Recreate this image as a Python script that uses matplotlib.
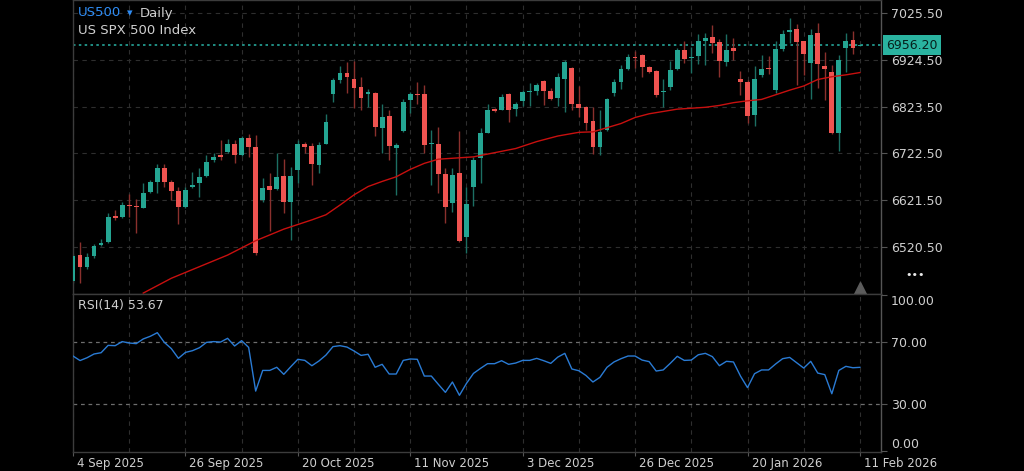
"""US500 daily candles with 50 MA and RSI(14) panel, dark theme."""

import matplotlib

matplotlib.use("Agg")
import matplotlib.pyplot as plt
import matplotlib.transforms as mtransforms
import numpy as np

# --- data (one entry per daily bar) ---
open_ = [6448, 6503, 6478, 6500, 6525, 6531, 6588, 6586, 6612, 6609,
         6605, 6640, 6660, 6692, 6661, 6641, 6607, 6649, 6658, 6674,
         6708, 6718, 6725, 6743, 6719, 6756, 6736, 6622, 6652, 6646,
         6674, 6618, 6687, 6743, 6738, 6697, 6743, 6850, 6881, 6897,
         6883, 6865, 6851, 6852, 6778, 6803, 6735, 6771, 6838, 6851,
         6851, 6743, 6742, 6677, 6615, 6681, 6541, 6649, 6712, 6766,
         6818, 6816, 6851, 6819, 6835, 6855, 6858, 6879, 6857, 6841,
         6884, 6906, 6830, 6823, 6792, 6737, 6773, 6852, 6877, 6905,
         6931, 6935, 6908, 6900, 6856, 6865, 6905, 6946, 6929, 6933,
         6966, 6974, 6964, 6919, 6949, 6884, 6877, 6806, 6892, 6906,
         6859, 6947, 6984, 6991, 6965, 6917, 6983, 6912, 6899, 6767,
         6949, 6967, 6955]
high = [6506, 6532, 6507, 6528, 6537, 6593, 6600, 6618, 6635, 6623,
        6659, 6665, 6700, 6700, 6665, 6651, 6651, 6683, 6690, 6719,
        6723, 6751, 6753, 6751, 6760, 6764, 6762, 6669, 6681, 6724,
        6710, 6694, 6751, 6748, 6746, 6748, 6807, 6885, 6911, 6920,
        6923, 6887, 6861, 6854, 6829, 6816, 6744, 6839, 6856, 6877,
        6870, 6773, 6780, 6690, 6690, 6771, 6651, 6715, 6777, 6830,
        6820, 6851, 6852, 6833, 6859, 6874, 6874, 6881, 6863, 6895,
        6924, 6910, 6868, 6825, 6823, 6816, 6841, 6882, 6913, 6938,
        6944, 6938, 6912, 6902, 6884, 6923, 6949, 6966, 6953, 6980,
        6982, 7000, 6969, 6980, 6971, 6901, 6881, 6912, 6935, 6933,
        6966, 6989, 7014, 7002, 6966, 6992, 7003, 6942, 6913, 6935,
        6983, 6987, 6958]
low = [6442, 6442, 6472, 6496, 6522, 6530, 6579, 6583, 6586, 6550,
       6604, 6636, 6636, 6651, 6622, 6570, 6604, 6647, 6629, 6672,
       6705, 6708, 6723, 6701, 6717, 6715, 6503, 6618, 6554, 6643,
       6593, 6536, 6658, 6723, 6654, 6681, 6743, 6834, 6874, 6852,
       6820, 6816, 6822, 6759, 6723, 6708, 6633, 6769, 6809, 6830,
       6723, 6654, 6638, 6573, 6597, 6532, 6507, 6609, 6659, 6766,
       6812, 6816, 6791, 6803, 6825, 6825, 6848, 6827, 6838, 6825,
       6812, 6816, 6802, 6773, 6721, 6719, 6771, 6846, 6861, 6902,
       6906, 6888, 6895, 6845, 6823, 6859, 6902, 6917, 6895, 6915,
       6913, 6940, 6887, 6912, 6924, 6848, 6789, 6782, 6888, 6894,
       6853, 6944, 6961, 6870, 6892, 6839, 6863, 6838, 6764, 6728,
       6899, 6938, 6954]
close = [6501, 6478, 6498, 6523, 6530, 6585, 6584, 6612, 6608, 6606,
         6638, 6660, 6692, 6660, 6641, 6607, 6643, 6654, 6672, 6705,
         6715, 6715, 6742, 6718, 6756, 6736, 6507, 6648, 6643, 6672,
         6618, 6674, 6743, 6736, 6700, 6741, 6791, 6880, 6895, 6888,
         6863, 6841, 6855, 6779, 6800, 6739, 6741, 6834, 6850, 6848,
         6741, 6744, 6677, 6607, 6676, 6534, 6613, 6708, 6766, 6816,
         6815, 6845, 6816, 6830, 6854, 6857, 6871, 6858, 6840, 6887,
         6920, 6830, 6821, 6789, 6737, 6769, 6839, 6877, 6905, 6930,
         6929, 6908, 6899, 6848, 6858, 6902, 6946, 6926, 6931, 6966,
         6972, 6961, 6922, 6946, 6943, 6877, 6804, 6883, 6905, 6904,
         6947, 6980, 6989, 6963, 6936, 6978, 6915, 6905, 6767, 6924,
         6965, 6951, 6956.2]
rsi = [60.9, 58.0, 59.8, 62.2, 63.0, 67.7, 67.5, 70.1, 69.2, 68.8,
       71.8, 73.5, 75.8, 69.6, 65.6, 59.4, 63.2, 64.3, 66.2, 69.6,
       70.1, 69.8, 72.2, 67.3, 70.7, 66.4, 38.5, 51.7, 51.7, 53.7,
       49.2, 54.1, 58.8, 58.1, 54.7, 57.7, 61.5, 66.9, 67.5, 66.6,
       64.1, 61.3, 62.0, 53.7, 55.6, 49.4, 49.4, 58.1, 59.0, 58.8,
       48.1, 48.1, 42.8, 37.7, 44.3, 35.8, 43.4, 49.8, 53.0, 56.0,
       56.0, 57.9, 55.6, 56.4, 58.1, 58.1, 59.4, 57.9, 56.2, 60.2,
       62.6, 52.6, 51.5, 48.5, 44.3, 47.3, 53.7, 57.1, 59.2, 60.9,
       60.9, 58.3, 57.3, 51.3, 52.0, 56.2, 60.7, 58.1, 58.3, 61.7,
       62.6, 60.5, 54.7, 57.5, 57.1, 48.1, 40.7, 49.6, 52.0, 52.0,
       55.8, 59.2, 60.0, 56.6, 53.2, 57.5, 50.0, 49.0, 36.8, 51.7,
       54.3, 53.4, 53.67]
# moving average, read at a subset of bars (it enters from below the panel)
ma_idx = [10, 14, 18, 22, 26, 30, 34, 36, 38, 40, 42, 44, 46, 48, 50, 52,
          54, 56, 57, 60, 63, 66, 69, 72, 74, 76, 78, 80, 82, 84, 86, 88,
          90, 92, 94, 96, 98, 100, 102, 104, 106, 108, 110, 112]
ma_val = [6421, 6453, 6478, 6503, 6534, 6559, 6579, 6590, 6611, 6633,
          6651, 6662, 6672, 6688, 6701, 6710, 6712, 6714, 6715, 6724,
          6733, 6748, 6760, 6768, 6769, 6778, 6787, 6800, 6808, 6813,
          6818, 6820, 6822, 6826, 6832, 6836, 6839, 6849, 6859, 6868,
          6882, 6888, 6892, 6897]

tick_pos = [0, 16, 32, 48, 64, 80, 96, 112]
tick_labels = ["4 Sep 2025", "26 Sep 2025", "20 Oct 2025", "11 Nov 2025",
               "3 Dec 2025", "26 Dec 2025", "20 Jan 2026", "11 Feb 2026"]
price_ticks = [6520.5, 6621.5, 6722.5, 6823.5, 6924.5, 7025.5]
rsi_ticks = [0, 30, 70, 100]
last_price = 6956.20
rsi_last = 53.67

BG = "#000000"
UP = "#24a592"
DOWN = "#ef5350"
UP_WICK = "#1c6f63"
DOWN_WICK = "#8a302d"
GRID = "#2e2e2e"
SPINE = "#3c3c3c"
TXT = "#cfcfcf"

W, H = 1024, 471
fig = plt.figure(figsize=(W / 100, H / 100), dpi=100, facecolor=BG)
ax = fig.add_axes([73 / W, 1 - 294 / H, 808 / W, 294 / H], facecolor=BG)
ax2 = fig.add_axes([73 / W, 1 - 452 / H, 808 / W, 158 / H], facecolor=BG, sharex=ax)

x = np.arange(len(close))
o = np.array(open_, dtype=float)
c = np.array(close, dtype=float)
up = c >= o

# candles
ax.vlines(x, low, high, colors=np.where(up, UP_WICK, DOWN_WICK), linewidth=1, zorder=2)
ax.bar(x, np.maximum(np.abs(c - o), 2.2), bottom=np.minimum(o, c), width=0.68,
       color=np.where(up, UP, DOWN), linewidth=0, zorder=3)
ax.plot(ma_idx, ma_val, color="#c8100f", linewidth=1.0, zorder=4)
ax.axhline(last_price, color="#26a69a", linestyle=(0, (1.5, 2)), linewidth=1.2, zorder=1)

ax.set_xlim(0.1, 115.0)
ax.set_ylim(6419, 7053.6)
ax.yaxis.tick_right()
ax.set_yticks(price_ticks)
ax.set_yticklabels([f"{p:.2f}" for p in price_ticks])
ax.set_xticks(tick_pos)
ax.set_xticks([p + 8 for p in tick_pos[:-1]], minor=True)
ax.grid(True, which="both", color=GRID, linestyle=(0, (4, 4)), linewidth=0.8)
ax.set_axisbelow(True)
ax.tick_params(axis="x", which="both", length=0, labelbottom=False)
ax.tick_params(axis="y", colors="#555555", labelcolor=TXT, labelsize=9, length=4, pad=3)

# price label box
blend = mtransforms.blended_transform_factory(ax.transAxes, ax.transData)
off = mtransforms.ScaledTranslation(5 / 100, 0, fig.dpi_scale_trans)
ax.text(1.0, last_price, f"{last_price:.2f}", transform=blend + off, ha="left", va="center",
        fontsize=9, color="#06201c", zorder=10, clip_on=False,
        bbox=dict(boxstyle="square,pad=0.25", fc="#2ab3a0", ec="none"))

# last-bar marker at the panel bottom
ax.plot([x[-1]], [0.022], marker="^", ms=8, color="#5c5c5c",
        transform=mtransforms.blended_transform_factory(ax.transData, ax.transAxes),
        clip_on=False, zorder=6)

# RSI panel
ax2.plot(x, rsi, color="#2a7bd4", linewidth=1.0, zorder=3)
for lvl in (30, 70):
    ax2.axhline(lvl, color="#6e6e6e", linestyle=(0, (3, 3)), linewidth=0.9, zorder=2)
ax2.set_ylim(-0.4, 100.5)
ax2.yaxis.tick_right()
ax2.set_yticks(rsi_ticks)
ax2.set_yticklabels([f"{v:.2f}" for v in rsi_ticks])
ylabels = ax2.get_yticklabels()
ylabels[0].set_va("bottom")
ylabels[-1].set_va("top")
ax2.tick_params(axis="y", colors="#555555", labelcolor=TXT, labelsize=9, length=4, pad=3)
ax2.set_xticks(tick_pos)
ax2.set_xticklabels(tick_labels)
ax2.grid(True, axis="x", which="both", color=GRID, linestyle=(0, (4, 4)), linewidth=0.8)
ax2.set_axisbelow(True)
ax2.tick_params(axis="x", which="major", colors="#555555", labelcolor=TXT,
                labelsize=8.5, length=3, pad=0.5)
ax2.tick_params(axis="x", which="minor", length=0)
xoff = mtransforms.ScaledTranslation(4 / 100, 0, fig.dpi_scale_trans)
for lab in ax2.get_xticklabels():
    lab.set_ha("left")
    lab.set_transform(lab.get_transform() + xoff)

for a in (ax, ax2):
    for s in a.spines.values():
        s.set_color(SPINE)
        s.set_linewidth(1)
ax.spines["right"].set_color("#555555")
ax2.spines["right"].set_color("#555555")

# header texts
fig.text(78 / W, 1 - 13 / H, "US500", color="#2f8df5", fontsize=9.5, va="center")
fig.text(127 / W, 1 - 13 / H, "▾", color="#2f8df5", fontsize=8, va="center")
fig.text(140 / W, 1 - 13 / H, "Daily", color=TXT, fontsize=9.5, va="center")
fig.text(78 / W, 1 - 30 / H, "US SPX 500 Index", color=TXT, fontsize=9.5, va="center")
fig.text(78 / W, 1 - 306 / H, f"RSI(14) {rsi_last:.2f}", color=TXT, fontsize=9, va="center")
fig.text(915 / W, 1 - 275 / H, "•••", color="#e8e8e8", fontsize=8, ha="center", va="center")

fig.savefig("out.png", dpi=100, facecolor=BG)
plt.close(fig)
